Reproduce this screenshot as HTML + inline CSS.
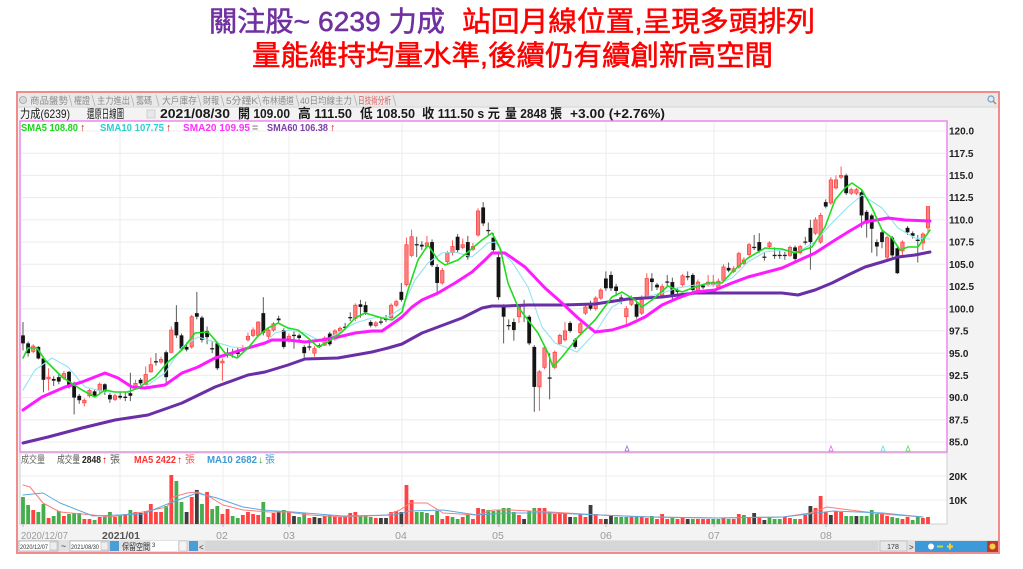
<!DOCTYPE html>
<html><head><meta charset="utf-8">
<style>
html,body{margin:0;padding:0;background:#fff;width:1023px;height:569px;overflow:hidden}
svg{display:block}
text{font-family:"Liberation Sans","Noto Sans CJK TC",sans-serif}
</style></head><body>
<svg id="s" width="1023" height="569" viewBox="0 0 1023 569" xmlns="http://www.w3.org/2000/svg">
<rect x="0" y="0" width="1023" height="569" fill="#fff"/>
<!-- Title -->
<text x="209" y="31" font-size="28" fill="#7030a0" stroke="#7030a0" stroke-width="0.55" textLength="236" lengthAdjust="spacingAndGlyphs" style="font-family:'Liberation Sans','Noto Sans CJK TC',sans-serif">關注股~ 6239 力成</text>
<text x="462" y="31" font-size="28" fill="#ff0000" stroke="#ff0000" stroke-width="0.55" textLength="353" lengthAdjust="spacingAndGlyphs" style="font-family:'Liberation Sans','Noto Sans CJK TC',sans-serif">站回月線位置,呈現多頭排列</text>
<text x="252" y="65" font-size="28" fill="#ff0000" stroke="#ff0000" stroke-width="0.55" textLength="521" lengthAdjust="spacingAndGlyphs" style="font-family:'Liberation Sans','Noto Sans CJK TC',sans-serif">量能維持均量水準,後續仍有續創新高空間</text>

<!-- Frame -->
<rect x="17" y="92" width="982" height="461" fill="#f3f3f3" stroke="#f08c8c" stroke-width="2"/>
<rect x="18" y="93" width="980" height="14" fill="#e9e9e9"/>
<line x1="18" y1="107" x2="998" y2="107" stroke="#d6d6d6" stroke-width="1"/>
<circle cx="23" cy="100" r="3.5" fill="#d8d8d8" stroke="#a0a0a0" stroke-width="0.8"/>
<g font-size="9.5" fill="#8c8c8c">
<text x="30" y="104" textLength="38" lengthAdjust="spacingAndGlyphs">商品盤勢</text>
<text x="74" y="104" textLength="16" lengthAdjust="spacingAndGlyphs">權證</text>
<text x="97" y="104" textLength="33" lengthAdjust="spacingAndGlyphs">主力進出</text>
<text x="136" y="104" textLength="16" lengthAdjust="spacingAndGlyphs">籌碼</text>
<text x="162" y="104" textLength="35" lengthAdjust="spacingAndGlyphs">大戶庫存</text>
<text x="203" y="104" textLength="16" lengthAdjust="spacingAndGlyphs">財報</text>
<text x="226" y="104" textLength="32" lengthAdjust="spacingAndGlyphs">5分鐘K</text>
<text x="262" y="104" textLength="32" lengthAdjust="spacingAndGlyphs">布林通道</text>
<text x="300" y="104" textLength="52" lengthAdjust="spacingAndGlyphs">40日均線主力</text>
<text x="358" y="104" textLength="33" lengthAdjust="spacingAndGlyphs" fill="#e05a5a">日技術分析</text>
</g>
<g stroke="#b0b0b0" stroke-width="0.8">
<line x1="69" y1="95" x2="72" y2="106"/><line x1="92" y1="95" x2="95" y2="106"/>
<line x1="131" y1="95" x2="134" y2="106"/><line x1="156" y1="95" x2="159" y2="106"/>
<line x1="198" y1="95" x2="201" y2="106"/><line x1="221" y1="95" x2="224" y2="106"/>
<line x1="258" y1="95" x2="261" y2="106"/><line x1="296" y1="95" x2="299" y2="106"/>
<line x1="354" y1="95" x2="357" y2="106"/><line x1="393" y1="95" x2="396" y2="106"/>
</g>
<circle cx="991" cy="99" r="3" fill="none" stroke="#6f9fcf" stroke-width="1.2"/>
<line x1="993" y1="101" x2="996" y2="104" stroke="#d08040" stroke-width="1.5"/>

<!-- Info row -->
<g font-size="12" fill="#1a1a1a">
<text x="20" y="118" textLength="50" lengthAdjust="spacingAndGlyphs">力成(6239)</text>
<text x="87" y="118" textLength="37" lengthAdjust="spacingAndGlyphs">還原日線圖</text>
<rect x="147" y="110" width="8" height="8" fill="#e8e8e8" stroke="#c8c8c8" stroke-width="0.8"/>
<text x="160" y="118" font-size="13" font-weight="bold" textLength="70" lengthAdjust="spacingAndGlyphs">2021/08/30</text>
<text x="238" y="118" font-size="13" font-weight="bold" textLength="52" lengthAdjust="spacingAndGlyphs">開 109.00</text>
<text x="298" y="118" font-size="13" font-weight="bold" textLength="54" lengthAdjust="spacingAndGlyphs">高 111.50</text>
<text x="360" y="118" font-size="13" font-weight="bold" textLength="55" lengthAdjust="spacingAndGlyphs">低 108.50</text>
<text x="422" y="118" font-size="13" font-weight="bold" textLength="78" lengthAdjust="spacingAndGlyphs">收 111.50 s 元</text>
<text x="505" y="118" font-size="13" font-weight="bold" textLength="57" lengthAdjust="spacingAndGlyphs">量 2848 張</text>
<text x="570" y="118" font-size="13" font-weight="bold" textLength="95" lengthAdjust="spacingAndGlyphs">+3.00 (+2.76%)</text>
</g>

<!-- Plot areas -->
<rect x="20" y="121" width="927" height="331" fill="#fff" stroke="#ee88ee" stroke-width="1.5"/>
<rect x="20" y="453" width="927" height="71" fill="#fff" stroke="#cfcfcf" stroke-width="1"/>
<g id="grid"></g>
<g id="candles"></g>
<g id="malines"></g>
<g id="vol"></g>

<!-- SMA legend -->
<g font-size="10.5" font-weight="bold">
<text x="21" y="131" fill="#16d916" textLength="57" lengthAdjust="spacingAndGlyphs">SMA5 108.80</text>
<text x="80" y="131" fill="#e00000">↑</text>
<text x="100" y="131" fill="#2ccfcf" textLength="64" lengthAdjust="spacingAndGlyphs">SMA10 107.75</text>
<text x="166" y="131" fill="#e00000">↑</text>
<text x="183" y="131" fill="#ff30ff" textLength="67" lengthAdjust="spacingAndGlyphs">SMA20 109.95</text>
<text x="252" y="131" fill="#888">=</text>
<text x="267" y="131" fill="#7a3fa8" textLength="61" lengthAdjust="spacingAndGlyphs">SMA60 106.38</text>
<text x="330" y="131" fill="#e00000">↑</text>
</g>

<!-- Volume legend -->
<g font-size="10">
<text x="21" y="463" fill="#666" textLength="24" lengthAdjust="spacingAndGlyphs">成交量</text>
<text x="57" y="463" fill="#555" textLength="23" lengthAdjust="spacingAndGlyphs">成交量</text>
<text x="82" y="463" fill="#222" font-weight="bold" textLength="19" lengthAdjust="spacingAndGlyphs">2848</text>
<text x="102" y="463" fill="#e00000" font-weight="bold">↑</text>
<text x="110" y="463" fill="#555" textLength="10" lengthAdjust="spacingAndGlyphs">張</text>
<text x="134" y="463" fill="#ff3030" font-weight="bold" textLength="42" lengthAdjust="spacingAndGlyphs">MA5 2422</text>
<text x="177" y="463" fill="#e00000" font-weight="bold">↑</text>
<text x="185" y="463" fill="#ff5050" textLength="10" lengthAdjust="spacingAndGlyphs">張</text>
<text x="207" y="463" fill="#3f9ad6" font-weight="bold" textLength="50" lengthAdjust="spacingAndGlyphs">MA10 2682</text>
<text x="258" y="463" fill="#2a9a2a" font-weight="bold">↓</text>
<text x="265" y="463" fill="#3f9ad6" textLength="10" lengthAdjust="spacingAndGlyphs">張</text>
</g>

<!-- Right axis labels -->
<g id="axis" font-size="10" font-weight="bold" fill="#222"></g>
<text x="949" y="480" font-size="10" font-weight="bold" fill="#222">20K</text>
<text x="949" y="504" font-size="10" font-weight="bold" fill="#222">10K</text>

<!-- markers -->
<g fill="none" stroke-width="0.8">
<polygon points="625,451 627,446 629,451" stroke="#9a6fd0"/>
<polygon points="829,451 831,446 833,451" stroke="#ee66ee"/>
<polygon points="881,451 883,446 885,451" stroke="#66dddd"/>
<polygon points="906,451 908,446 910,451" stroke="#55dd55"/>
</g>

<!-- Date axis -->
<g font-size="10.5" fill="#9a9a9a">
<text x="21" y="539" textLength="47" lengthAdjust="spacingAndGlyphs">2020/12/07</text>
<text x="102" y="539" fill="#555" font-weight="bold" textLength="38" lengthAdjust="spacingAndGlyphs">2021/01</text>
<text x="222" y="539" text-anchor="middle">02</text>
<text x="289" y="539" text-anchor="middle">03</text>
<text x="401" y="539" text-anchor="middle">04</text>
<text x="498" y="539" text-anchor="middle">05</text>
<text x="606" y="539" text-anchor="middle">06</text>
<text x="714" y="539" text-anchor="middle">07</text>
<text x="826" y="539" text-anchor="middle">08</text>
</g>

<!-- Bottom toolbar -->
<rect x="18" y="540" width="980" height="12" fill="#e2e2e2"/>
<rect x="205" y="541" width="673" height="10" fill="#d6d6d6"/>
<rect x="19" y="541" width="39" height="10" fill="#fff" stroke="#999" stroke-width="0.6"/>
<text x="20" y="549" font-size="6.5" fill="#333" textLength="28" lengthAdjust="spacingAndGlyphs">2020/12/07</text>
<rect x="50" y="542" width="7" height="8" fill="#eee" stroke="#aaa" stroke-width="0.5"/>
<text x="61" y="549" font-size="9" fill="#333">~</text>
<rect x="70" y="541" width="39" height="10" fill="#fff" stroke="#999" stroke-width="0.6"/>
<text x="71" y="549" font-size="6.5" fill="#333" textLength="28" lengthAdjust="spacingAndGlyphs">2021/08/30</text>
<rect x="101" y="542" width="7" height="8" fill="#eee" stroke="#aaa" stroke-width="0.5"/>
<rect x="110" y="541" width="9" height="10" fill="#4a9ed8"/>
<text x="122" y="550" font-size="9" fill="#333" textLength="28" lengthAdjust="spacingAndGlyphs">保留空間</text>
<rect x="151" y="541" width="27" height="10" fill="#fff"/>
<text x="152" y="547" font-size="6" fill="#333">3</text>
<rect x="179" y="541" width="8" height="10" fill="#f4f4f4" stroke="#aaa" stroke-width="0.5"/>
<rect x="189" y="541" width="9" height="10" fill="#4a9ed8"/>
<text x="199" y="550" font-size="8" fill="#333">&lt;</text>
<rect x="880" y="541" width="27" height="10" fill="#e8e8e8" stroke="#b0b0b0" stroke-width="0.6"/>
<text x="893" y="549" font-size="7" fill="#333" text-anchor="middle">178</text>
<text x="909" y="550" font-size="8" fill="#333">&gt;</text>
<rect x="915" y="541" width="72" height="11" fill="#3d9ad8"/>
<rect x="987" y="541" width="11" height="11" fill="#c0392b"/>
<circle cx="992.5" cy="546.5" r="3" fill="#f1d14a"/>
<circle cx="931" cy="546.5" r="3" fill="#fff"/>
<rect x="937" y="545.5" width="6" height="2" fill="#b8e04a"/>
<rect x="947" y="545.5" width="6" height="2" fill="#f1d14a"/>
<rect x="949" y="543.5" width="2" height="6" fill="#f1d14a"/>
</svg>
<script>
(function(){
var NS="http://www.w3.org/2000/svg";
function el(tag,attrs,parent){var e=document.createElementNS(NS,tag);for(var k in attrs)e.setAttribute(k,attrs[k]);parent.appendChild(e);return e;}
function P(v){return 131+(120-v)*8.8857;}
function X(i){return 23+i*5.113;}
var grid=document.getElementById('grid'),cg=document.getElementById('candles'),mg=document.getElementById('malines'),vg=document.getElementById('vol'),ax=document.getElementById('axis');
for(var k=0;k<=14;k++){var y=131+k*22.215;
 el('line',{x1:20.8,y1:y,x2:946.2,y2:y,stroke:'#ececec','stroke-width':1},grid);
 var t=el('text',{x:949,y:(y+3.6).toFixed(1)},ax);t.textContent=(120-k*2.5).toFixed(1);}
var vx=[120,223,289,402,499,606,714,826];
vx.forEach(function(x){
 el('line',{x1:x,y1:121.8,x2:x,y2:451.2,stroke:'#ececec','stroke-width':1},grid);
 el('line',{x1:x,y1:453.5,x2:x,y2:523.5,stroke:'#ececec','stroke-width':1},grid);
 el('line',{x1:x,y1:524,x2:x,y2:527,stroke:'#bbb','stroke-width':1},grid);
});
el('line',{x1:23,y1:524,x2:23,y2:527,stroke:'#bbb','stroke-width':1},grid);
[476,500].forEach(function(y){el('line',{x1:20.5,y1:y,x2:946.5,y2:y,stroke:'#ececec','stroke-width':1},grid);});

var D=[[97.0,96.1,98.5,95.3],[96.1,95.0,96.3,94.6],[95.2,95.8,96.0,95.0],[95.7,94.4,95.8,94.3],[94.4,92.0,94.6,90.6],[92.1,92.3,93.3,90.8],[92.1,91.9,92.4,91.3],[92.3,91.8,92.6,91.5],[92.2,92.7,93.0,92.0],[92.9,91.2,93.0,91.0],
[91.6,90.0,91.8,88.1],[90.2,89.7,90.4,89.3],[89.4,89.7,89.9,89.0],[90.2,90.8,91.0,90.0],[90.7,90.2,90.9,90.0],[90.8,91.5,91.7,90.5],[91.5,90.7,91.6,90.3],[90.3,89.8,90.5,89.4],[89.8,90.2,90.4,89.6],[90.2,90.0,90.6,89.8],
[90.1,90.0,90.6,89.6],[90.5,90.2,92.8,89.6],[91.2,91.6,92.0,91.0],[92.0,91.6,92.2,91.4],[91.5,92.6,93.5,91.4],[92.9,93.7,94.5,92.8],[94.1,94.0,95.0,93.6],[94.0,94.3,94.6,93.8],[95.1,92.3,95.3,91.6],[95.1,97.6,98.0,95.0],
[98.5,97.0,100.4,96.7],[97.0,95.5,97.2,95.3],[95.7,95.4,96.2,95.2],[95.7,99.1,99.3,95.5],[99.5,99.1,101.9,98.8],[99.0,96.5,99.2,96.2],[97.5,96.8,98.0,96.0],[95.5,95.5,96.3,95.0],[96.1,93.3,96.3,93.1],[93.9,94.1,94.4,91.9],
[95.0,95.0,95.6,94.5],[95.1,95.0,95.5,94.5],[95.2,94.9,95.6,94.6],[95.3,95.5,95.9,95.0],[96.5,96.9,97.3,96.3],[97.0,97.6,97.9,96.8],[97.0,98.5,98.6,96.8],[99.5,97.3,101.3,97.0],[96.9,97.6,97.8,96.6],[97.6,98.3,98.5,97.4],
[98.9,98.7,99.2,98.4],[97.6,95.7,97.8,95.5],[96.6,96.9,97.2,96.2],[97.0,97.0,97.5,95.5],[97.0,96.7,97.2,96.4],[95.7,95.0,95.9,94.4],[95.7,95.7,96.2,95.3],[95.0,95.5,95.8,94.6],[95.9,95.7,96.1,95.6],[95.9,96.7,96.9,95.8],
[97.2,96.0,97.4,95.8],[96.6,97.5,97.7,96.4],[97.5,97.8,98.0,97.3],[97.9,97.9,98.4,97.6],[99.0,99.0,99.6,98.6],[98.9,100.4,100.6,98.6],[100.5,100.2,101.0,99.0],[100.4,99.6,100.8,99.3],[98.5,98.1,98.7,97.9],[98.1,98.4,98.6,97.9],
[98.5,98.5,98.9,98.2],[98.8,98.8,99.3,98.5],[99.0,100.4,100.6,98.8],[100.4,100.8,101.0,100.2],[101.9,101.0,102.9,100.8],[102.7,107.2,108.0,102.5],[106.0,108.1,108.9,105.8],[107.2,107.2,108.1,105.8],[107.2,107.0,107.6,106.6],[107.0,107.4,108.2,106.8],
[107.5,104.9,107.8,104.7],[104.7,102.9,105.0,101.5],[102.9,104.3,104.6,102.7],[105.3,106.3,106.5,105.1],[106.3,107.0,107.7,106.0],[108.1,106.6,108.4,106.3],[106.9,107.2,107.9,106.7],[107.5,105.8,108.2,105.5],[106.7,107.0,107.4,106.5],[108.3,111.0,111.3,108.1],
[111.4,109.6,112.0,109.3],[108.8,108.8,109.7,108.3],[108.0,106.6,108.5,106.3],[105.8,101.3,106.2,101.0],[100.2,99.1,100.5,96.1],[98.1,98.1,98.8,97.6],[98.5,97.6,98.9,96.4],[99.1,100.2,100.4,98.4],[100.5,100.3,101.0,98.5],[99.1,96.1,99.3,95.9],
[95.7,91.2,95.9,88.4],[91.2,92.9,93.1,88.5],[93.4,95.6,95.8,93.2],[92.2,92.2,95.0,89.8],[93.4,95.1,95.3,93.2],[96.1,97.0,97.2,95.9],[96.5,97.5,98.5,96.3],[98.4,97.5,98.6,97.3],[96.5,95.7,96.7,95.5],[97.3,98.3,98.5,97.1],
[99.5,100.2,100.4,99.3],[100.6,100.0,100.9,99.8],[100.0,101.2,101.4,99.8],[101.2,102.1,102.3,101.0],[103.4,102.3,104.2,102.0],[103.8,102.3,104.2,102.0],[102.5,102.0,102.8,101.4],[101.2,101.2,101.6,100.5],[99.1,100.0,100.3,98.0],[100.5,101.0,101.5,100.3],
[100.5,99.1,100.8,98.9],[99.5,101.3,101.5,99.3],[101.3,103.4,104.0,101.1],[103.4,103.0,104.0,102.0],[102.7,102.4,102.9,102.1],[101.5,102.5,102.8,101.3],[103.0,103.0,103.8,102.5],[103.0,101.5,103.5,100.8],[102.1,101.9,102.4,101.6],[102.7,103.7,103.9,102.5],
[103.6,103.6,104.2,103.2],[103.8,102.1,104.0,101.9],[101.8,103.0,103.3,101.6],[102.6,102.4,102.8,102.2],[102.7,103.0,103.8,102.5],[102.7,103.0,103.8,102.5],[102.4,103.1,103.4,102.2],[103.2,104.7,105.0,103.0],[104.6,104.3,105.2,104.1],[104.2,104.5,104.8,104.0],
[104.7,106.2,106.4,104.5],[105.1,105.5,105.8,104.9],[106.1,107.2,107.4,105.9],[106.9,106.9,108.3,106.6],[107.5,106.5,108.5,106.3],[105.8,105.8,106.4,105.4],[107.0,107.4,107.6,106.8],[106.0,106.0,106.9,105.6],[106.0,106.0,106.5,105.6],[106.0,106.0,106.4,105.5],
[106.0,106.9,107.1,105.8],[106.9,105.6,107.1,105.4],[106.3,107.0,107.2,106.1],[107.5,107.5,108.1,107.2],[109.1,107.5,110.0,104.4],[108.5,110.0,110.3,108.3],[107.5,110.5,110.8,107.3],[112.0,111.5,112.3,111.3],[111.9,114.5,114.8,111.7],[113.6,114.5,115.0,113.4],
[114.8,115.0,116.0,114.6],[115.0,113.0,115.2,112.8],[113.0,113.4,113.6,112.8],[113.0,113.4,113.6,112.8],[113.1,110.5,113.3,109.1],[110.9,109.6,111.1,108.0],[110.5,109.0,110.7,106.3],[107.5,107.0,107.8,105.9],[108.6,107.5,108.8,106.8],[105.8,108.0,108.2,105.3],
[108.0,106.0,108.2,105.8],[106.8,104.0,107.0,103.9],[106.5,107.5,107.7,105.9],[109.1,108.6,109.3,108.3],[108.5,108.2,108.7,107.9],[107.7,107.7,108.3,105.2],[107.4,108.4,108.6,106.6],[109.1,111.5,111.5,108.5]];

D.forEach(function(d,i){
 var o=d[0],c=d[1],h=d[2],l=d[3],x=X(i);
 var up=c>o, doji=Math.abs(c-o)<0.08;
 el('line',{x1:x,y1:P(h),x2:x,y2:P(l),stroke:up?'#ff5a5a':'#5a5a5a','stroke-width':1},cg);
 var yt=P(Math.max(o,c)), yb=P(Math.min(o,c)), hh=Math.max(1.3,yb-yt);
 if(doji){el('rect',{x:x-2,y:yt-0.6,width:4,height:1.3,fill:'#222'},cg);}
 else if(up){el('rect',{x:x-1.7,y:yt,width:3.4,height:hh,fill:'#ff8080',stroke:'#ff3c3c','stroke-width':0.7},cg);}
 else{el('rect',{x:x-1.9,y:yt,width:3.8,height:hh,fill:'#141414'},cg);}
});

function line(pts,color,w,parent){
 el('polyline',{points:pts.map(function(p){return p[0]+','+p[1];}).join(' '),fill:'none',stroke:color,'stroke-width':w,'stroke-linejoin':'round','stroke-linecap':'round'},parent);
}
var S60=[[23,443],[48,437],[82,428],[115,420],[148,415],[182,403],[215,387],[248,375],[265,372],[288,365],[305,359],[338,358],[355,355],[372,352],[388,348],[402,344],[422,333],[438,327],[462,318],[482,308],[492,306],[505,306],[528,305],[562,305],[595,304],[628,299],[662,297],[695,293],[725,293],[748,293],[782,293],[798,295],[815,290],[832,283],[848,275],[865,267],[882,262],[898,257],[915,255],[930,252]];
var S20=[[23,410],[42,397],[65,387],[82,382],[105,373],[118,378],[132,387],[145,388],[165,385],[182,373],[198,367],[215,358],[232,353],[248,348],[265,343],[272,340],[288,340],[305,342],[322,340],[338,337],[355,333],[372,331],[382,331],[395,322],[402,317],[412,307],[422,300],[438,293],[455,283],[472,272],[485,260],[492,253],[505,253],[525,267],[545,288],[562,303],[578,318],[595,332],[612,330],[628,325],[645,317],[662,305],[678,298],[695,292],[715,290],[732,283],[748,277],[782,268],[815,253],[832,242],[848,232],[865,222],[888,218],[905,220],[930,221]];
var S10=[[23,390],[35,370],[52,358],[68,367],[85,387],[105,392],[125,392],[145,387],[165,373],[182,347],[198,337],[215,342],[232,347],[248,348],[265,343],[275,333],[288,330],[305,333],[322,342],[338,333],[355,323],[372,318],[388,317],[402,308],[415,280],[428,263],[442,253],[455,252],[472,257],[488,243],[495,242],[505,255],[512,262],[528,287],[542,327],[555,343],[577,352],[595,333],[612,307],[628,298],[645,297],[662,293],[678,288],[695,285],[715,285],[732,278],[748,262],[765,252],[782,250],[798,252],[815,242],[832,223],[848,207],[862,195],[882,208],[898,228],[915,238],[930,239]];
var S5=[[23,358],[28,348],[37,348],[45,360],[62,377],[82,390],[95,397],[105,390],[115,392],[128,392],[138,388],[155,377],[168,362],[182,350],[195,333],[208,332],[215,340],[225,353],[237,358],[248,348],[258,336],[268,328],[278,323],[288,328],[298,330],[308,338],[318,347],[328,342],[342,332],[355,318],[365,313],[382,318],[392,320],[402,312],[408,290],[418,260],[428,245],[438,260],[445,265],[458,260],[468,252],[482,240],[492,233],[500,248],[508,283],[518,307],[528,320],[538,333],[548,353],[553,367],[562,357],[578,337],[595,320],[612,297],[622,292],[635,300],[642,307],[652,300],[668,286],[682,292],[695,287],[708,283],[722,283],[732,272],[748,258],[765,248],[782,249],[795,253],[812,247],[825,227],[835,200],[845,188],[852,183],[862,190],[872,208],[882,230],[892,238],[900,250],[908,247],[918,247],[930,230]];
line(S10,'#8fe3f2',1.1,mg);
line(S60,'#6a2ea6',3,mg);
line(S20,'#ff1aff',3,mg);
line(S5,'#1fdc1f',1.6,mg);

var VH=[27,19,14,12,20,6,8,13,8,10,11,11,5,5,4,7,7,12,7,9,10,14,12,11,13,20,12,12,18,49,43,22,12,27,34,20,32,15,18,10,15,8,6,9,12,10,9,22,7,11,13,14,12,8,7,11,6,7,6,8,9,7,7,7,11,12,8,8,7,6,6,6,12,13,12,39,24,12,12,11,9,13,5,8,7,5,7,9,5,16,15,14,13,14,16,
16,12,9,5,13,16,16,16,12,10,11,11,7,7,10,7,19,10,5,5,8,7,7,7,7,7,7,6,8,5,10,5,6,5,6,5,5,5,5,5,5,5,6,5,5,10,9,6,11,7,4,7,5,5,7,6,5,5,9,18,16,28,12,9,13,12,8,8,8,8,8,14,10,11,8,7,6,5,7,4,7,6,7];
var VC="ggrggrggrg"+"ggrrgrggrg"+"rgrbrrrrgr"+"ggbrbgrggr"+"rggrrrrgrr"+"bgrbggrbbr"+"grrrrrgggr"+"bbrrbrrggg"+"rgrrggrgrr"+"rgggg"+
"ggrbggrrgr"+"rrbgrrbrrb"+"bgggrgrrgr"+"rrgrrbgrrr"+"ggrgrrgrbr"+"bgggrrgrrb"+"rrrbrrggbg"+"gggrrggrrg"+"grr";
var col={r:'#ff4343',g:'#45ad4b',b:'#3d3d3d'};
for(var i=0;i<VH.length;i++){var x=X(i),h=VH[i];
 el('rect',{x:x-1.9,y:524-h,width:3.8,height:h,fill:col[VC.charAt(i)]||'#ff4343'},vg);}
var M5=[[23,485],[30,487],[43,503],[60,512],[93,515],[110,517],[143,512],[167,507],[173,497],[187,493],[197,492],[210,497],[223,505],[243,510],[270,512],[287,512],[310,515],[343,517],[387,515],[400,510],[410,503],[427,503],[443,513],[477,515],[493,510],[510,510],[550,512],[600,515],[650,517],[717,518],[783,517],[810,513],[827,507],[850,510],[883,514],[923,517]];
var M10=[[23,495],[43,493],[60,503],[93,516],[143,514],[170,503],[197,493],[217,498],[243,507],[263,510],[293,512],[343,516],[393,515],[410,511],[443,510],[477,515],[510,513],[550,513],[600,515],[650,517],[717,518],[783,517],[817,513],[833,511],[883,513],[923,517]];
line(M5,'#ff7a7a',1,vg);
line(M10,'#5aa9e0',1,vg);
})();
</script>
</body></html>
